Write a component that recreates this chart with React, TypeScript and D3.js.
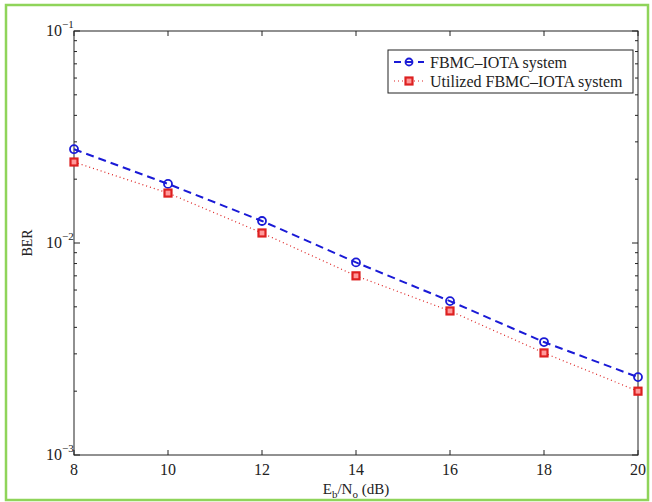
import React from "react";
import * as d3 from "d3";

const snr = [8, 10, 12, 14, 16, 18, 20];
const berFbmc = [0.0277, 0.019, 0.0127, 0.0081, 0.00532, 0.00341, 0.00233];
const berUtilized = [0.0241, 0.0172, 0.01115, 0.007, 0.00478, 0.00303, 0.002];
const xTicks = [8, 10, 12, 14, 16, 18, 20];
const yDecades = [1e-3, 1e-2, 1e-1];
const yExps = ["\u22123", "\u22122", "\u22121"];

const width = 652;
const height = 502;
const margin = { top: 31, right: 14, bottom: 47, left: 74 };
const font = "'Liberation Serif', 'Times New Roman', serif";

const App = () => {
  const innerW = width - margin.left - margin.right;
  const innerH = height - margin.top - margin.bottom;

  const x = d3.scaleLinear().domain([8, 20]).range([0, innerW]);
  const y = d3.scaleLog().domain([1e-3, 1e-1]).range([innerH, 0]);

  const minor: number[] = [];
  [1e-3, 1e-2].forEach((d) => {
    for (let k = 2; k <= 9; k++) minor.push(d * k);
  });

  const line = d3
    .line<number>()
    .x((_, i) => x(snr[i]))
    .y((d) => y(d));

  const blue = "#1a1ad6";
  const red = "#dd2020";

  return (
    <svg
      width={width}
      height={height}
      style={{ position: "absolute", left: 0, top: 0, background: "#fff" }}
    >
      <rect x={6} y={5} width={642} height={495} fill="none" stroke="#8fd45a" strokeWidth={2.5} />
      <g transform={`translate(${margin.left},${margin.top})`} fontFamily={font}>
        <rect x={0} y={0} width={innerW} height={innerH} fill="none" stroke="#222" strokeWidth={1} />

        {xTicks.map((t) => (
          <g key={t}>
            <line x1={x(t)} x2={x(t)} y1={innerH} y2={innerH - 5} stroke="#222" />
            <line x1={x(t)} x2={x(t)} y1={0} y2={5} stroke="#222" />
            <text x={x(t)} y={innerH + 20} textAnchor="middle" fontSize={16} fill="#222">
              {t}
            </text>
          </g>
        ))}

        {yDecades.map((d, i) => (
          <g key={d}>
            <line x1={0} x2={6} y1={y(d)} y2={y(d)} stroke="#222" />
            <line x1={innerW} x2={innerW - 6} y1={y(d)} y2={y(d)} stroke="#222" />
            <text x={-12} y={y(d) + 5} textAnchor="end" fontSize={16} fill="#222">
              10
            </text>
            <text x={-12} y={y(d) - 3} fontSize={11} fill="#222">
              {yExps[i]}
            </text>
          </g>
        ))}

        {minor.map((m) => (
          <g key={m}>
            <line x1={0} x2={3} y1={y(m)} y2={y(m)} stroke="#222" />
            <line x1={innerW} x2={innerW - 3} y1={y(m)} y2={y(m)} stroke="#222" />
          </g>
        ))}

        <path d={line(berUtilized) ?? ""} fill="none" stroke={red} strokeWidth={1.2} strokeDasharray="1,3" />
        <path d={line(berFbmc) ?? ""} fill="none" stroke={blue} strokeWidth={2} strokeDasharray="8,5" />

        {berFbmc.map((v, i) => (
          <circle key={i} cx={x(snr[i])} cy={y(v)} r={4} fill="none" stroke={blue} strokeWidth={1.8} />
        ))}
        {berUtilized.map((v, i) => (
          <rect key={i} x={x(snr[i]) - 3.5} y={y(v) - 3.5} width={7} height={7} fill="#f99" stroke={red} strokeWidth={2.2} />
        ))}

        <g transform={`translate(${388 - margin.left},${50 - margin.top})`}>
          <rect x={0} y={0} width={245} height={43} fill="#fff" stroke="#222" />
          <line x1={6} x2={36} y1={12} y2={12} stroke={blue} strokeWidth={2} strokeDasharray="7,5" />
          <circle cx={21} cy={12} r={3.5} fill="none" stroke={blue} strokeWidth={1.8} />
          <text x={42} y={17.5} fontSize={16} fill="#222">FBMC–IOTA system</text>
          <line x1={6} x2={36} y1={31} y2={31} stroke={red} strokeWidth={1.2} strokeDasharray="1,3" />
          <rect x={17.5} y={27.5} width={7} height={7} fill="#f99" stroke={red} strokeWidth={2.2} />
          <text x={42} y={36.5} fontSize={16} fill="#222">Utilized FBMC–IOTA system</text>
        </g>

        <text
          transform={`translate(${-42},${innerH / 2}) rotate(-90)`}
          textAnchor="middle"
          fontSize={14}
          fill="#222"
        >
          BER
        </text>
        <text x={innerW / 2} y={innerH + 39} textAnchor="middle" fontSize={15} fill="#222">
          E<tspan fontSize={11} dy={4}>b</tspan>
          <tspan dy={-4}>/N</tspan>
          <tspan fontSize={11} dy={4}>o</tspan>
          <tspan dy={-4}> (dB)</tspan>
        </text>
      </g>
    </svg>
  );
};

export default App;
